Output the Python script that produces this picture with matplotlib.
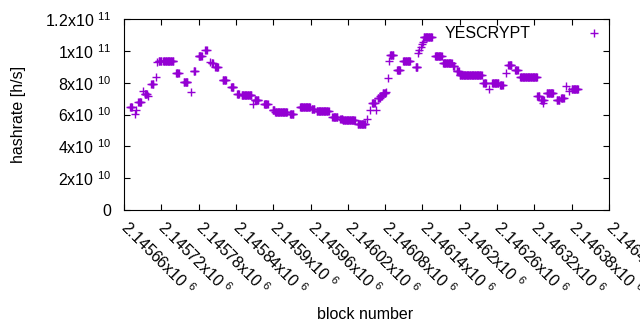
import numpy as np
import matplotlib
matplotlib.use('Agg')
import matplotlib.pyplot as plt
from matplotlib.ticker import FuncFormatter, MultipleLocator

# runs of blocks with the same hashrate (1e9 h/s)
run_start = [2145670, 2145678, 2145680, 2145683, 2145690, 2145693, 2145699, 2145704,
             2145711, 2145713, 2145716, 2145723, 2145744, 2145756, 2145767, 2145772,
             2145780, 2145791, 2145798, 2145801, 2145807, 2145819, 2145832, 2145842,
             2145849, 2145867, 2145870, 2145885, 2145899, 2145903, 2145927, 2145943,
             2145962, 2145970, 2145995, 2146008, 2146012, 2146036, 2146051, 2146056,
             2146059, 2146065, 2146068, 2146072, 2146076, 2146082, 2146085, 2146086,
             2146088, 2146099, 2146109, 2146129, 2146133, 2146135, 2146137, 2146139,
             2146141, 2146142, 2146160, 2146173, 2146189, 2146195, 2146200, 2146238,
             2146247, 2146252, 2146265, 2146274, 2146278, 2146289, 2146297, 2146325,
             2146331, 2146334, 2146340, 2146356, 2146363, 2146371, 2146376, 2146380]
run_end = [2145673, 2145678, 2145680, 2145687, 2145690, 2145697, 2145699, 2145707,
           2145711, 2145713, 2145720, 2145739, 2145748, 2145762, 2145767, 2145774,
           2145785, 2145793, 2145798, 2145803, 2145811, 2145824, 2145836, 2145845,
           2145865, 2145867, 2145876, 2145891, 2145902, 2145922, 2145932, 2145959,
           2145966, 2145989, 2146003, 2146011, 2146031, 2146048, 2146051, 2146056,
           2146063, 2146065, 2146071, 2146075, 2146080, 2146082, 2146085, 2146086,
           2146093, 2146104, 2146120, 2146132, 2146133, 2146135, 2146137, 2146139,
           2146141, 2146155, 2146171, 2146187, 2146191, 2146198, 2146235, 2146242,
           2146247, 2146262, 2146269, 2146274, 2146283, 2146293, 2146324, 2146328,
           2146335, 2146334, 2146350, 2146360, 2146367, 2146371, 2146376, 2146390]
run_value = [64.7, 60.1, 62.8, 68.0, 74.8, 72.7, 71.6, 79.2,
             83.8, 92.8, 93.8, 93.4, 85.9, 80.2, 73.9, 87.3,
             96.6, 100.3, 93.2, 92.2, 89.7, 81.5, 77.1, 73.1,
             72.1, 66.6, 68.9, 66.6, 62.8, 61.4, 60.1, 64.5,
             63.3, 62.0, 58.6, 57.2, 56.4, 54.2, 57.4, 62.8,
             67.4, 62.8, 70.5, 71.8, 73.5, 74.3, 82.7, 93.8,
             97.4, 88.0, 93.6, 90.0, 98.6, 100.5, 102.5, 104.5,
             105.7, 108.5, 96.8, 92.2, 90.5, 87.5, 84.6, 80.0,
             75.8, 80.0, 78.5, 85.9, 91.1, 88.0, 83.4, 71.6,
             69.1, 67.0, 73.3, 69.1, 70.2, 77.9, 74.8, 75.8]

blocks = []
hashrate = []
for s, e, v in zip(run_start, run_end, run_value):
    for b in range(s, e + 1):
        blocks.append(b)
        hashrate.append(v * 1e9)

plt.rcParams['font.family'] = ['Liberation Sans', 'DejaVu Sans']
plt.rcParams['font.size'] = 11.5
plt.rcParams['mathtext.default'] = 'regular'

fig = plt.figure(figsize=(6.4, 3.3), dpi=100)
ax = fig.add_axes([124 / 640, 1 - 210 / 330, 485 / 640, 191 / 330])

ax.plot(blocks, hashrate, linestyle='none', marker='+', markersize=6.2,
        markeredgewidth=1.0, color='#9400d3', label='YESCRYPT')

ax.set_xlim(2145660, 2146440)
ax.set_ylim(0, 1.2e11)
ax.xaxis.set_major_locator(MultipleLocator(60))
ax.yaxis.set_major_locator(MultipleLocator(2e10))


def yfmt(v, pos):
    if v < -1:
        return ''
    if abs(v) < 1:
        return '0'
    exp = int(np.floor(np.log10(v) + 1e-9))
    return '%gx10 $^{%d}$' % (round(v / 10 ** exp, 6), exp)


def xfmt(v, pos):
    return '%gx10 $^{6}$' % (round(v / 1e6, 6))


ax.yaxis.set_major_formatter(FuncFormatter(yfmt))
ax.xaxis.set_major_formatter(FuncFormatter(xfmt))
ax.tick_params(direction='in', top=True, right=True, length=4, width=0.8)
ax.tick_params(axis='y', pad=9)
ax.tick_params(axis='x', pad=10.5)
for lab in ax.get_xticklabels():
    lab.set_rotation(-45)
    lab.set_ha('left')
    lab.set_va('center')
    lab.set_rotation_mode('anchor')

ax.set_xlabel('block number')
ax.set_ylabel('hashrate [h/s]')
ax.xaxis.set_label_coords(0.497, -0.51)
ax.yaxis.set_label_coords(-0.202, 0.5)

ax.legend(loc='upper right', frameon=False, markerfirst=False, handletextpad=3.45,
          borderaxespad=0.0, handlelength=1.0, borderpad=0.45)

fig.savefig('out.png', dpi=100)
